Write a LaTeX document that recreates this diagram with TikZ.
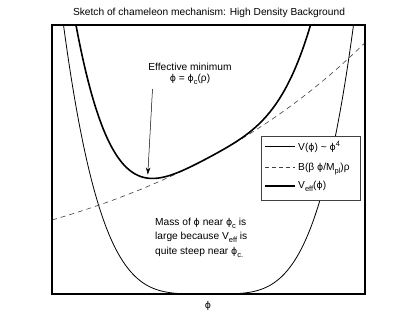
\documentclass[tikz,border=0pt]{standalone}
\usepackage{fontspec}
\setmainfont{Liberation Sans}
\newfontfamily\phifont{DejaVu Sans}[Scale=0.92]
\newcommand{\phis}{{\phifont ϕ}}
\newcommand{\lowsub}[1]{\raisebox{-3.2pt}{\fontsize{7.5}{8}\selectfont #1}}
\newcommand{\highsup}[1]{\raisebox{4.2pt}{\fontsize{7.5}{8}\selectfont #1}}
\usetikzlibrary{arrows.meta}
\begin{document}
\begin{tikzpicture}[x=1pt,y=-1pt,
  font=\fontsize{10.2}{12}\selectfont,
  declare function={
    qq(\x)=(\x-208.5)/145;
    hv(\x)=269*qq(\x)*qq(\x)*qq(\x)*qq(\x);
    hb(\x)=74*exp(0.0039*(\x-52));
  },
  thincurve/.style={line width=0.8pt,black},
  thickcurve/.style={line width=1.6pt,black},
  dashcurve/.style={line width=0.6pt,black!75,dash pattern=on 5pt off 4pt},
  framebox/.style={line width=1.4pt,black},
  legendbox/.style={draw=black!75,line width=0.7pt,fill=white},
  lbl/.style={inner sep=0pt},
]
\useasboundingbox[fill=white] (0,0) rectangle (403,332);
% title
\node[lbl,anchor=base] (title) at (209,16) {Sketch of chameleon mechanism: High Density Background};
% curves
\begin{scope}
  \clip (52,25) rectangle (365,294);
  \draw[thincurve] plot[domain=55:362,samples=250,smooth] (\x,{294-hv(\x)});
  \draw[dashcurve] plot[domain=52:365,samples=100,smooth] (\x,{294-hb(\x)});
  \draw[thickcurve] plot[domain=70:318,samples=250,smooth] (\x,{294-hv(\x)-hb(\x)});
\end{scope}
% legend
\node[legendbox,minimum width=99pt,minimum height=64pt,anchor=north west,inner sep=0pt] (legend) at (261,136) {};
\coordinate (l1a) at (265,146); \coordinate (l1b) at (295,146);
\coordinate (l2a) at (265,167); \coordinate (l2b) at (295,167);
\coordinate (l3a) at (265,186); \coordinate (l3b) at (295,186);
\draw[thincurve] (l1a) -- (l1b);
\draw[dashcurve,dash pattern=on 4pt off 3pt] (l2a) -- (l2b);
\draw[thickcurve] (l3a) -- (l3b);
\node[lbl,anchor=base west] (t1) at (298,150.5) {V(\phis) \textasciitilde{} \phis\highsup{4}};
\node[lbl,anchor=base west] (t2) at (298,170) {B(β \phis/M\lowsub{pl})ρ};
\node[lbl,anchor=base west] (t3) at (298,188.5) {V\lowsub{eff}(\phis)};
% frame
\draw[framebox] (52,25) rectangle (365,294);
% annotations
\node[lbl,anchor=base] (eff1) at (190,70.5) {Effective minimum};
\node[lbl,anchor=base] (eff2) at (190,81.5) {\phis{} = \phis\lowsub{c}(ρ)};
\coordinate (arrs) at (152.5,89);
\coordinate (arre) at (147.8,174.5);
\draw[line width=0.5pt,-{Stealth[length=7pt,width=4.5pt]}] (arrs) -- (arre);
\node[lbl,anchor=base west] (mass1) at (155,225) {Mass of \phis{} near \phis\lowsub{c} is};
\node[lbl,anchor=base west] (mass2) at (155,239.5) {large because V\lowsub{eff} is};
\node[lbl,anchor=base west] (mass3) at (155,254) {quite steep near \phis\lowsub{c.}};
% axis label
\node[lbl,anchor=base] (axis) at (208,308) {\phis};
\end{tikzpicture}
\end{document}
